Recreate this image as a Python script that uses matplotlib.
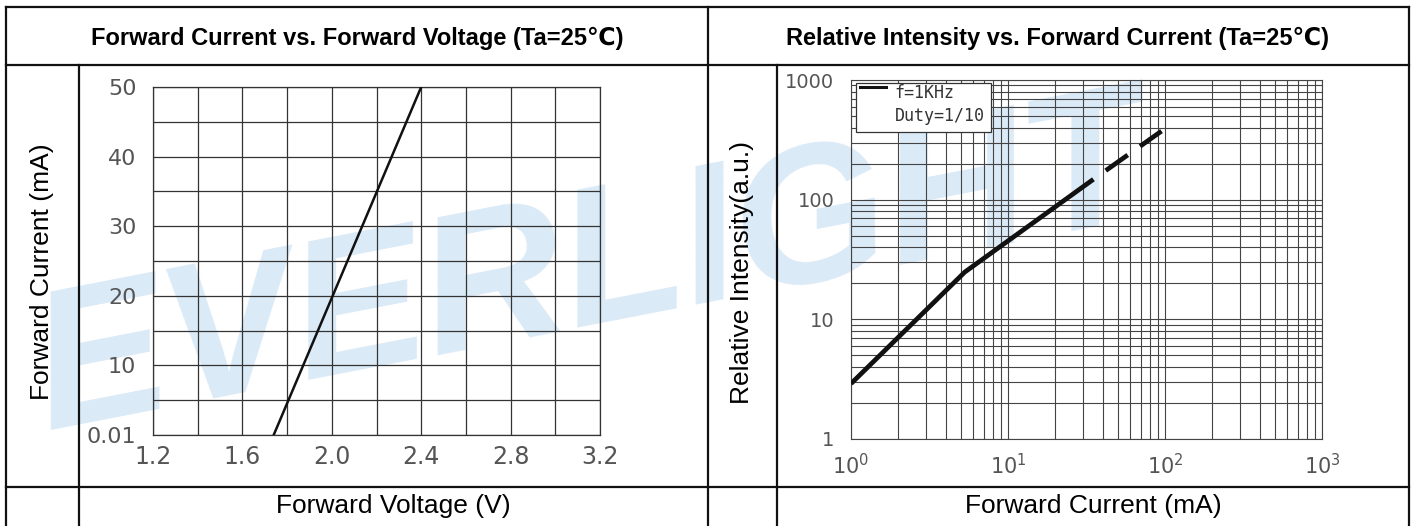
import matplotlib
matplotlib.use("Agg")
import matplotlib.pyplot as plt
from matplotlib.lines import Line2D
from matplotlib.patches import Rectangle
from matplotlib.ticker import FixedLocator, LogLocator, NullFormatter

W, H = 1416, 526

# Forward current vs forward voltage
vf_volts = [1.74, 2.40]
if_ma = [0, 50]
vf_ticks = [1.2, 1.6, 2.0, 2.4, 2.8, 3.2]
vf_ticklabels = ["1.2", "1.6", "2.0", "2.4", "2.8", "3.2"]
vf_grid = [1.4, 1.8, 2.2, 2.6, 3.0]
if_ticks = [0, 10, 20, 30, 40, 50]
if_ticklabels = ["0.01", "10", "20", "30", "40", "50"]
if_grid = [5, 15, 25, 35, 45]

# Relative intensity vs forward current
cur_solid = [1, 5.3, 35]
rel_solid = [2.9, 24.8, 148]
cur_dash = [35, 95]
rel_dash = [148, 374]
cur_ticks = [1, 10, 100, 1000]
cur_ticklabels = [r"$\mathregular{10^0}$", r"$\mathregular{10^1}$",
                  r"$\mathregular{10^2}$", r"$\mathregular{10^3}$"]
rel_ticks = [1, 10, 100, 1000]
rel_ticklabels = ["1", "10", "100", "1000"]
legend_lines = ["f=1KHz", "Duty=1/10"]

titles = ["Forward Current vs. Forward Voltage (Ta=25\u2103)",
          "Relative Intensity vs. Forward Current (Ta=25\u2103)"]
ylabels = ["Forward Current (mA)", "Relative Intensity(a.u.)"]
xlabels = ["Forward Voltage (V)", "Forward Current (mA)"]

plt.rcParams["font.family"] = ["Liberation Sans", "DejaVu Sans"]

fig = plt.figure(figsize=(W / 100, H / 100), dpi=100)


def fx(px):
    return px / W


def fy(py):
    return 1 - py / H


def hline(y, x0, x1):
    fig.add_artist(Line2D([fx(x0), fx(x1)], [fy(y), fy(y)], color="#111111", lw=1.6))


def vline(x, y0, y1):
    fig.add_artist(Line2D([fx(x), fx(x)], [fy(y0), fy(y1)], color="#111111", lw=1.6))


# watermark
fig.text(fx(592), fy(272), "EVERLIGHT", fontsize=142, fontweight="bold", style="italic",
         color="#dbeaf7", rotation=11, ha="center", va="center", zorder=-10)

# table frame
hline(7, 6, 1409)
hline(65, 6, 1409)
hline(487, 6, 1409)
vline(6, 7, 526)
vline(1409, 7, 526)
vline(708, 7, 526)
vline(79, 65, 526)
vline(777, 65, 526)

# header / label texts
fig.text(fx(357), fy(38), titles[0], fontsize=17, fontweight="bold", ha="center", va="center")
fig.text(fx(1058), fy(38), titles[1], fontsize=17, fontweight="bold", ha="center", va="center")
fig.text(fx(42), fy(272), ylabels[0], fontsize=19, rotation=90, ha="center", va="center")
fig.text(fx(742), fy(272), ylabels[1], fontsize=19, rotation=90, ha="center", va="center")
fig.text(fx(393), fy(506), xlabels[0], fontsize=19, ha="center", va="center")
fig.text(fx(1093), fy(506), xlabels[1], fontsize=19, ha="center", va="center")

tick_font = dict(family="DejaVu Sans", color="#555555")

# left chart
ax1 = fig.add_axes([fx(153), fy(435), (600 - 153) / W, (435 - 87) / H])
ax1.set_facecolor("none")
ax1.plot(vf_volts, if_ma, color="#111111", lw=1.8, zorder=3)
ax1.set_xlim(1.2, 3.2)
ax1.set_ylim(0, 50)
ax1.xaxis.set_major_locator(FixedLocator(vf_ticks))
ax1.xaxis.set_minor_locator(FixedLocator(vf_grid))
ax1.yaxis.set_major_locator(FixedLocator(if_ticks))
ax1.yaxis.set_minor_locator(FixedLocator(if_grid))
ax1.set_xticklabels(vf_ticklabels, fontsize=17, **tick_font)
ax1.set_yticklabels(if_ticklabels, fontsize=16, **tick_font)
ax1.grid(True, which="both", color="#333333", lw=0.9)
ax1.tick_params(which="both", length=0)
ax1.tick_params(axis="x", pad=7)
ax1.tick_params(axis="y", pad=12)
for s in ax1.spines.values():
    s.set_color("#333333")
    s.set_linewidth(0.9)

# right chart
ax2 = fig.add_axes([fx(851), fy(439), (1322 - 851) / W, (439 - 80) / H])
ax2.set_facecolor("none")
ax2.set_xscale("log")
ax2.set_yscale("log")
ax2.set_xlim(1, 1000)
ax2.set_ylim(1, 1000)
ax2.plot(cur_solid, rel_solid, color="#111111", lw=3.4, solid_capstyle="butt", zorder=3)
ax2.plot(cur_dash, rel_dash, color="#111111", lw=3.4, zorder=3,
         linestyle=(5.7, (5.7, 3.2)))
ax2.xaxis.set_major_locator(FixedLocator(cur_ticks))
ax2.yaxis.set_major_locator(FixedLocator(rel_ticks))
ax2.xaxis.set_minor_locator(LogLocator(base=10, subs=range(2, 10)))
ax2.yaxis.set_minor_locator(LogLocator(base=10, subs=range(2, 10)))
ax2.xaxis.set_minor_formatter(NullFormatter())
ax2.yaxis.set_minor_formatter(NullFormatter())
ax2.set_xticklabels(cur_ticklabels, fontsize=15, **tick_font)
ax2.set_yticklabels(rel_ticklabels, fontsize=14, **tick_font)
ax2.grid(True, which="both", color="#444444", lw=0.8)
ax2.tick_params(which="both", length=0)
ax2.tick_params(axis="x", pad=10)
ax2.tick_params(axis="y", pad=12)
for s in ax2.spines.values():
    s.set_color("#444444")
    s.set_linewidth(0.8)

# legend box drawn by hand
ax2.add_patch(Rectangle((0.011, 0.855), 0.286, 0.137, transform=ax2.transAxes,
                        facecolor="white", edgecolor="#333333", lw=0.9, zorder=4))
ax2.add_line(Line2D([0.019, 0.074], [0.980, 0.980], transform=ax2.transAxes,
                    color="#111111", lw=2.2, zorder=5))
ax2.text(0.093, 0.963, legend_lines[0], transform=ax2.transAxes, fontsize=12,
         family="DejaVu Sans Mono", color="#333333", va="center", zorder=5)
ax2.text(0.093, 0.900, legend_lines[1], transform=ax2.transAxes, fontsize=12,
         family="DejaVu Sans Mono", color="#333333", va="center", zorder=5)

fig.savefig("out.png", dpi=100)
